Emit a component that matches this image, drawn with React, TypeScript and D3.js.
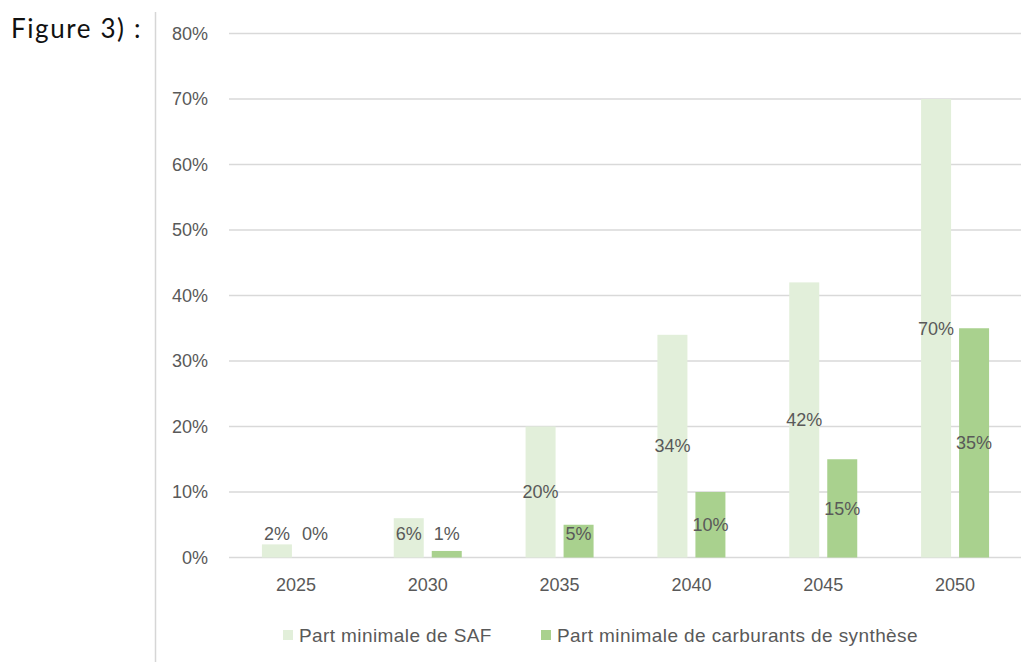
import * as d3 from "d3";

const years = ["2025", "2030", "2035", "2040", "2045", "2050"];
const safShare = [2, 6, 20, 34, 42, 70];
const synthShare = [0, 1, 5, 10, 15, 35];
const seriesNames = ["Part minimale de SAF", "Part minimale de carburants de synthèse"];
const seriesColors = ["#E2EFDA", "#A9D18E"];
const yTicks = [0, 10, 20, 30, 40, 50, 60, 70, 80];

const W = 1035, H = 662;
const FONT = "'Liberation Sans', Arial, sans-serif";
const TEXT = "#595959";

export default function App() {
  const x0 = d3.scaleBand().domain(years).range([230, 1021]);
  const x1 = d3.scaleBand().domain(["saf", "synth"]).range([-34, 34]).paddingInner(8 / 38);
  const y = d3.scaleLinear().domain([0, 80]).range([557.5, 33.5]);

  const rows = years.map((yr, i) => ({ yr, vals: [safShare[i], synthShare[i]] }));
  const keys = ["saf", "synth"];

  // Excel-ish "center" labels, pushed up when the bar is too short
  const labelY = (v) => Math.min((y(0) + y(v)) / 2, y(0) - 24);

  // legend layout
  const legX = [283, 541];

  return (
    <svg width={W} height={H} style={{ position: "absolute", left: 0, top: 0, background: "#fff" }}>
      <text x={11} y={38} fontFamily="Lato, 'Noto Sans', sans-serif" fontSize={26} letterSpacing={1.6} fill="#111">
        Figure 3) :
      </text>
      <line x1={155.5} x2={155.5} y1={12} y2={H} stroke="#d6d6d6" strokeWidth={1.5} />

      {/* gridlines + y labels */}
      {yTicks.map((t) => (
        <g key={t}>
          <line x1={229} x2={1021} y1={y(t)} y2={y(t)} stroke="#d9d9d9" strokeWidth={1.3} />
          <text x={208} y={y(t)} dy="0.35em" textAnchor="end" fontFamily={FONT} fontSize={18} fill={TEXT}>
            {t}%
          </text>
        </g>
      ))}

      {/* bars */}
      {rows.map((r) => (
        <g key={r.yr} transform={`translate(${x0(r.yr) + x0.bandwidth() / 2},0)`}>
          {r.vals.map((v, k) => (
            <rect key={k} x={x1(keys[k])} y={y(v)} width={x1.bandwidth()} height={y(0) - y(v)} fill={seriesColors[k]} />
          ))}
          {r.vals.map((v, k) => (
            <text key={"l" + k} x={x1(keys[k]) + x1.bandwidth() / 2} y={labelY(v)} dy="0.35em"
              textAnchor="middle" fontFamily={FONT} fontSize={18} fill={TEXT}>
              {v}%
            </text>
          ))}
          <text x={0} y={585} dy="0.35em" textAnchor="middle" fontFamily={FONT} fontSize={18} fill={TEXT}>
            {r.yr}
          </text>
        </g>
      ))}

      {/* legend */}
      {seriesNames.map((name, k) => (
        <g key={name} transform={`translate(${legX[k]},635)`}>
          <rect x={0} y={-5} width={10} height={10} fill={seriesColors[k]} />
          <text x={16} y={0} dy="0.35em" fontFamily={FONT} fontSize={19} letterSpacing={0.4} fill={TEXT}>
            {name}
          </text>
        </g>
      ))}
    </svg>
  );
}
